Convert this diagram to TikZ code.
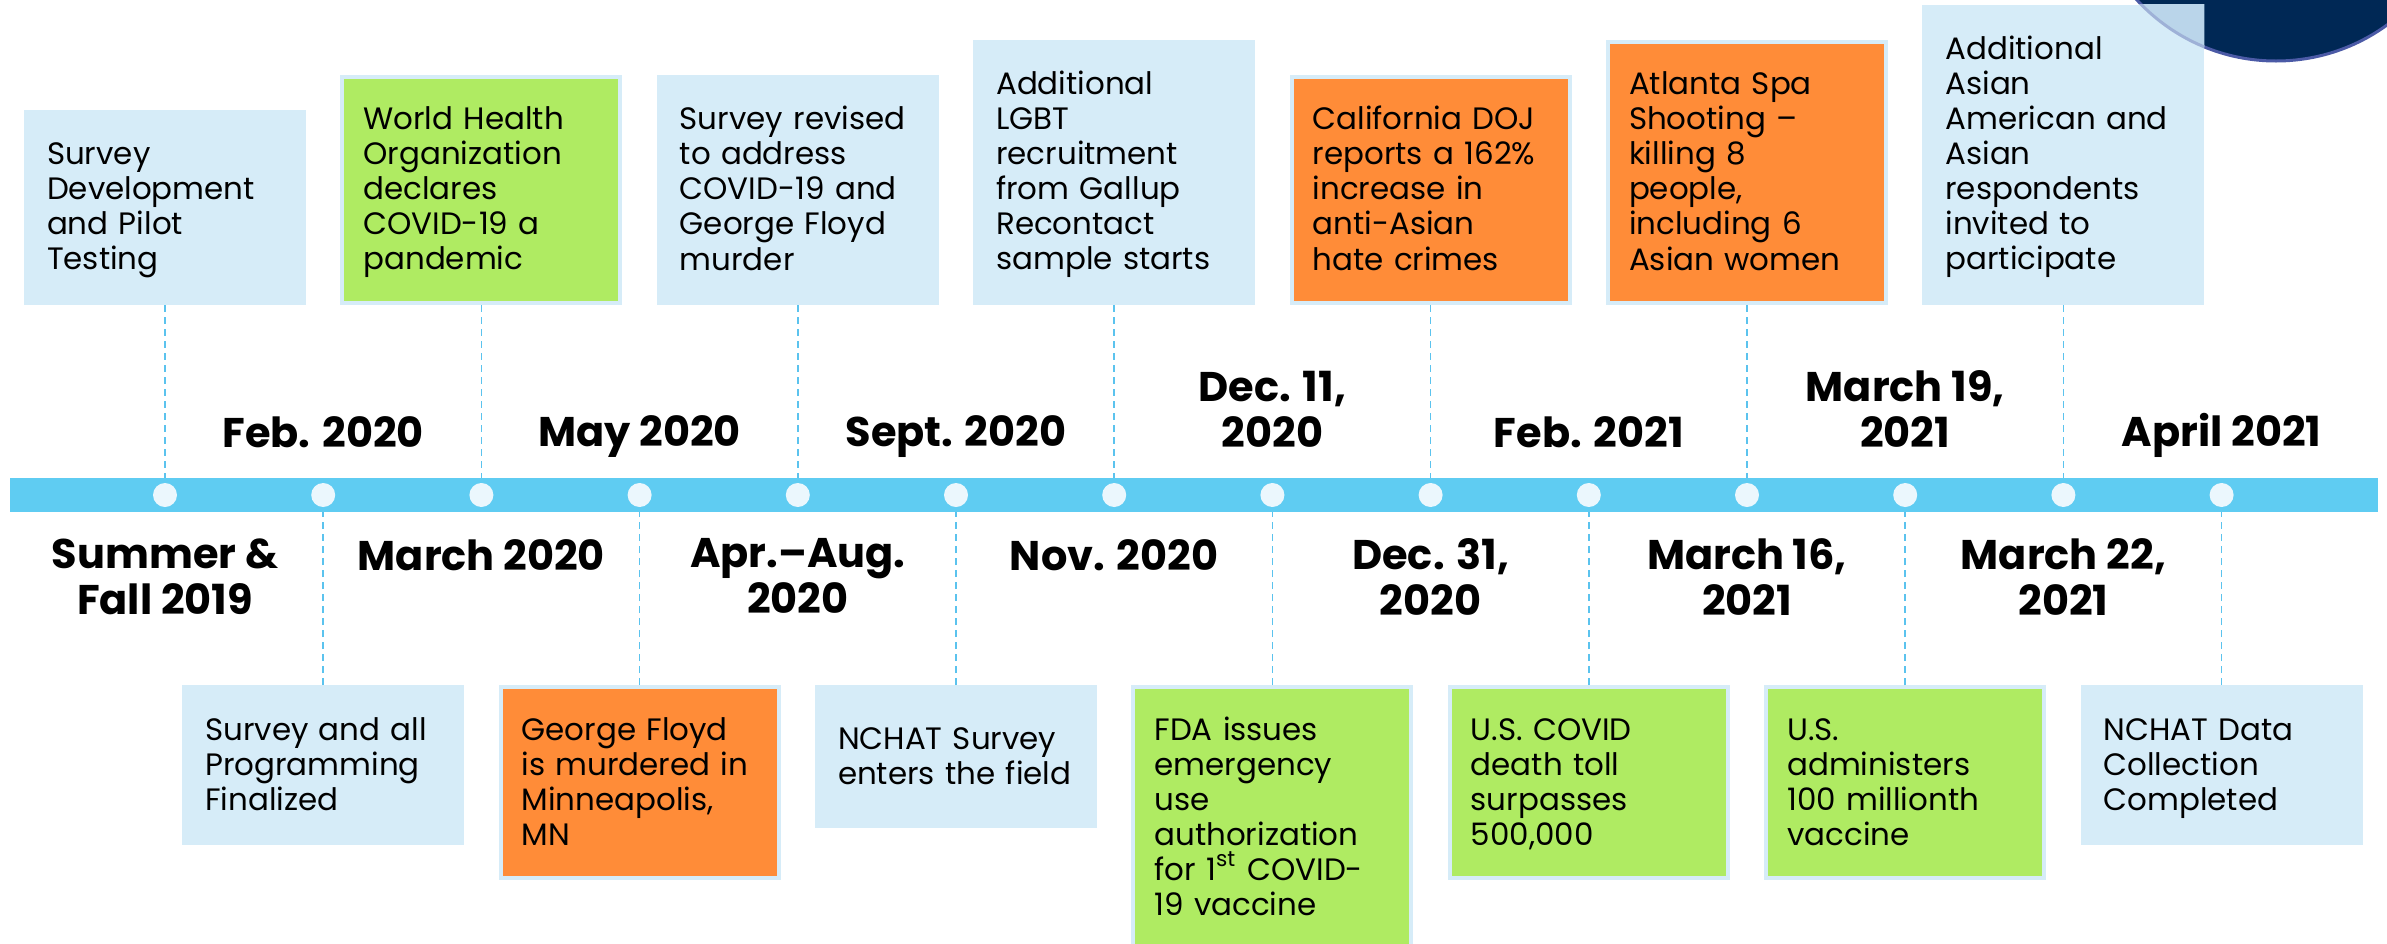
\documentclass[tikz,border=0pt]{standalone}
\usepackage{fontspec}
\setmainfont{Poppins}
\usepackage{tikz}
\usetikzlibrary{positioning}

\definecolor{barblue}{HTML}{5FCCF2}
\definecolor{dotwhite}{HTML}{EBF7FD}
\definecolor{skyfill}{HTML}{D6ECF8}
\definecolor{limefill}{HTML}{AFEB62}
\definecolor{amberfill}{HTML}{FF8C38}
\definecolor{navy}{HTML}{002855}
\definecolor{navyrim}{HTML}{4B5AA6}
\definecolor{navyshade}{HTML}{BAD5EA}
\definecolor{dashblue}{HTML}{5BC3EE}

\newcommand{\boxfont}{\fontsize{8.8}{9.96}\selectfont\hyphenpenalty10000\relax}
\newcommand{\boxtop}{\rule{0pt}{0.28cm}}
\newcommand{\boxbot}{\rule[-0.08cm]{0pt}{0.08cm}}
\newcommand{\datetop}{\rule{0pt}{0.32cm}}
\newcommand{\datebot}{\rule[-0.1cm]{0pt}{0.1cm}}

\tikzset{
  event/.style={draw=skyfill, line width=0.04cm, text width=2.36cm, align=left,
    inner xsep=0.21cm, inner ysep=0.25cm, font=\boxfont,
    execute at begin node=\boxtop, execute at end node=\boxbot},
  skybox/.style={event, fill=skyfill},
  limebox/.style={event, fill=limefill},
  amberbox/.style={event, fill=amberfill},
  datelbl/.style={font=\fontsize{11.8}{13.1}\selectfont\bfseries, align=center,
    inner sep=0pt, execute at begin node=\datetop, execute at end node=\datebot},
  link/.style={dashblue, line width=0.015cm, dash pattern=on 0.07cm off 0.05cm},
  tickdot/.style={circle, fill=dotwhite, inner sep=0pt, minimum size=0.24cm},
}

\begin{document}
\begin{tikzpicture}
\useasboundingbox (0,-4.48) rectangle (23.87,4.95);

% corner disc
\draw[navyrim, line width=0.03cm, fill=navy] (22.76,6.23) circle (1.89);

% points on the line
\foreach \i in {1,...,14}
  \coordinate (t\i) at ({1.65+1.582*(\i-1)},0);

% events above
\node[skybox, above=1.9cm of t1] (e1) {Survey\\Development\\and~Pilot\\Testing};
\node[limebox, above=1.9cm of t3] (e3) {World~Health\\Organization\\declares\\COVID-19~a\\pandemic};
\node[skybox, above=1.9cm of t5] (e5) {Survey~revised\\to~address\\COVID-19~and\\George~Floyd\\murder};
\node[skybox, above=1.9cm of t7] (e7) {Additional\\LGBT\\recruitment\\from~Gallup\\Recontact\\sample~starts};
\node[amberbox, above=1.9cm of t9] (e9) {California~DOJ\\reports~a~162\%\\increase~in\\anti-Asian\\hate~crimes};
\node[amberbox, above=1.9cm of t11] (e11) {Atlanta~Spa\\Shooting~--\\killing~8\\people,\\including~6\\Asian~women};
\node[skybox, above=1.9cm of t13] (e13) {Additional\\Asian\\American~and\\Asian\\respondents\\invited~to\\participate};

% events below
\node[skybox, below=1.9cm of t2] (e2) {Survey~and~all\\Programming\\Finalized};
\node[amberbox, below=1.9cm of t4] (e4) {George~Floyd\\is~murdered~in\\Minneapolis,\\MN};
\node[skybox, minimum height=1.39cm, below=1.9cm of t6] (e6) {NCHAT~Survey\\enters~the~field};
\node[limebox, below=1.9cm of t8] (e8) {FDA~issues\\emergency\\use\\authorization\\for~1\textsuperscript{st}~COVID-\\19~vaccine};
\node[limebox, below=1.9cm of t10] (e10) {U.S.~COVID\\death~toll\\surpasses\\500,000};
\node[limebox, below=1.9cm of t12] (e12) {U.S.\\administers\\100~millionth\\vaccine};
\node[skybox, below=1.9cm of t14] (e14) {NCHAT~Data\\Collection\\Completed};

% disc seen through the last top box
\begin{scope}
  \clip (e13.south west) rectangle (e13.north east);
  \draw[navyrim!40!skyfill, line width=0.03cm, fill=navyshade] (22.76,6.23) circle (1.89);
\end{scope}

% dashed leaders
\foreach \i in {1,3,...,13}
  \draw[link] (e\i.south) -- (t\i);
\foreach \i in {2,4,...,14}
  \draw[link] (e\i.north) -- (t\i);

% the line
\fill[barblue] (0.10,-0.17) rectangle (23.78,0.17);
\foreach \i in {1,...,14}
  \node[tickdot] (d\i) at (t\i) {};

% dates
\node[datelbl, above=0.37cm of t2] (l2) {Feb. 2020};
\node[datelbl, above=0.37cm of t4] (l4) {May 2020};
\node[datelbl, above=0.37cm of t6] (l6) {Sept. 2020};
\node[datelbl, above=0.37cm of t8] (l8) {Dec. 11,\\2020};
\node[datelbl, above=0.37cm of t10] (l10) {Feb. 2021};
\node[datelbl, above=0.37cm of t12] (l12) {March 19,\\2021};
\node[datelbl, above=0.37cm of t14] (l14) {April 2021};
\node[datelbl, below=0.43cm of t1] (l1) {Summer \&\\Fall 2019};
\node[datelbl, below=0.43cm of t3] (l3) {March 2020};
\node[datelbl, below=0.43cm of t5] (l5) {Apr.--Aug.\\2020};
\node[datelbl, below=0.43cm of t7] (l7) {Nov. 2020};
\node[datelbl, below=0.43cm of t9] (l9) {Dec. 31,\\2020};
\node[datelbl, below=0.43cm of t11] (l11) {March 16,\\2021};
\node[datelbl, below=0.43cm of t13] (l13) {March 22,\\2021};
\end{tikzpicture}
\end{document}
